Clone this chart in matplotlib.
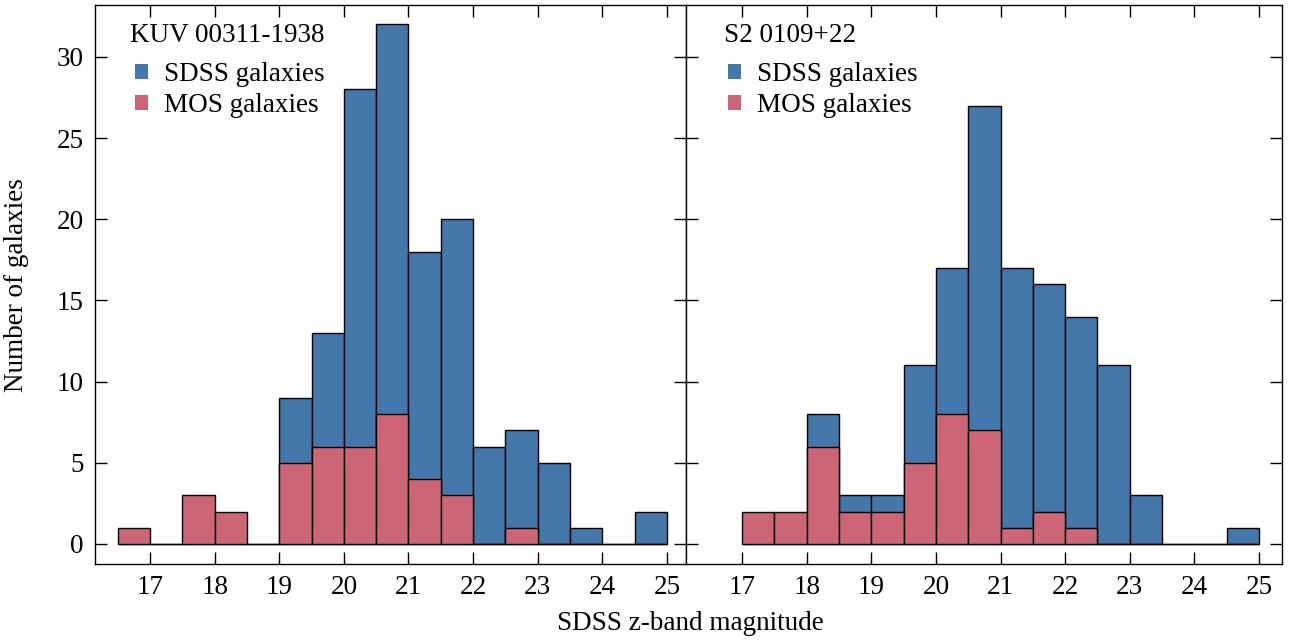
import matplotlib
matplotlib.use("Agg")
import matplotlib.pyplot as plt
from matplotlib.patches import Patch
import numpy as np

plt.rcParams['font.family'] = ['Liberation Serif', 'DejaVu Serif']
plt.rcParams['font.size'] = 19.5

# Data
left_title = "KUV 00311-1938"
left_edges = [16.5 + 0.5 * i for i in range(18)]  # 16.5 .. 25.0
left_sdss = [0, 0, 0, 0, 0, 9, 13, 28, 32, 18, 20, 6, 7, 5, 1, 0, 2]
left_mos = [1, 0, 3, 2, 0, 5, 6, 6, 8, 4, 3, 0, 1, 0, 0, 0, 0]

right_title = "S2 0109+22"
right_edges = [17.0 + 0.5 * i for i in range(17)]  # 17.0 .. 25.0
right_sdss = [0, 0, 8, 3, 3, 11, 17, 27, 17, 16, 14, 11, 3, 0, 0, 1]
right_mos = [2, 2, 6, 2, 2, 5, 8, 7, 1, 2, 1, 0, 0, 0, 0, 0]

legend_labels = ["SDSS galaxies", "MOS galaxies"]
xticks = [17, 18, 19, 20, 21, 22, 23, 24, 25]
yticks = [0, 5, 10, 15, 20, 25, 30]

blue = "#4477AA"
pink = "#CC6677"

W, H = 1293, 640
fig = plt.figure(figsize=(W / 100, H / 100), dpi=100)

def px_ax(x0, x1, y0, y1):
    return fig.add_axes([x0 / W, 1 - y1 / H, (x1 - x0) / W, (y1 - y0) / H])

AX_TOP, AX_BOT = 5, 564
ax1 = px_ax(95, 686, AX_TOP, AX_BOT)
ax2 = px_ax(686, 1282, AX_TOP, AX_BOT)

panels = [
    (ax1, left_title, left_edges, left_sdss, left_mos, (16.149, 25.294), 591, 35, 40),
    (ax2, right_title, right_edges, right_sdss, right_mos, (16.133, 25.356), 596, 38, 42),
]

fs = 19.5
axh = AX_BOT - AX_TOP
for ax, title, edges, sdss, mos, xl, wpx, toff, hoff in panels:
    edges = np.array(edges)
    lefts = edges[:-1]
    widths = np.diff(edges)
    ax.bar(lefts, sdss, width=widths, align='edge', color=blue,
           edgecolor='black', linewidth=1.0, zorder=2)
    ax.bar(lefts, mos, width=widths, align='edge', color=pink,
           edgecolor='black', linewidth=1.0, zorder=3)
    ax.set_xlim(*xl)
    ax.set_ylim(-1.232, 33.2)
    ax.set_xticks(xticks)
    ax.set_yticks(yticks)
    ax.tick_params(direction='in', length=8.5, width=1.0, top=True, right=True,
                   labelsize=fs, pad=8)
    for s in ax.spines.values():
        s.set_linewidth(1.0)
    ax.text(toff / wpx, (AX_BOT - 42) / axh, title, transform=ax.transAxes,
            ha='left', va='baseline', fontsize=fs)
    handles = [Patch(facecolor=blue, edgecolor='none'),
               Patch(facecolor=pink, edgecolor='none')]
    ax.legend(handles, legend_labels,
              loc='upper left', bbox_to_anchor=(hoff / wpx, (AX_BOT - 62) / axh),
              frameon=False, fontsize=fs, handlelength=0.48,
              handleheight=0.44, handletextpad=0.6, labelspacing=0.23,
              borderpad=0.0, borderaxespad=0.0)

ax2.tick_params(labelleft=False)
fig.text(17 / W, 1 - 285 / H, "Number of galaxies", ha='center', va='center',
         rotation=90, fontsize=fs)
fig.text(690 / W, 1 - 623 / H, "SDSS z-band magnitude", ha='center', va='center',
         fontsize=fs)

fig.savefig("out.png", dpi=100)
